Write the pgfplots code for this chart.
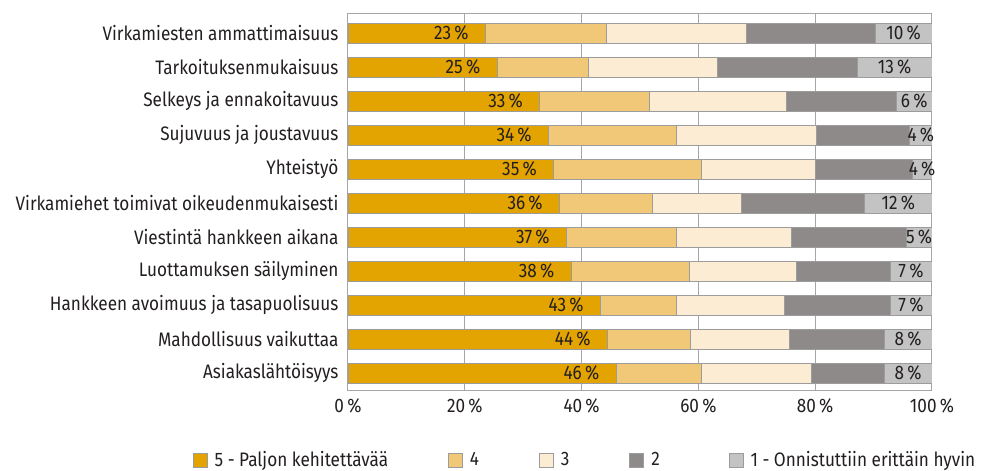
\documentclass[border=0pt]{standalone}
\usepackage{fontspec}
\setmainfont{Fira Sans}[FakeStretch=0.88]
\usepackage{pgfplots}
\usepackage{pgfplotstable}
\pgfplotsset{compat=1.18}
\definecolor{c5}{HTML}{E3A300}
\definecolor{c4}{HTML}{F0C878}
\definecolor{c3}{HTML}{FBECD3}
\definecolor{c2}{HTML}{8E8A89}
\definecolor{c1}{HTML}{C3C3C3}
\definecolor{edge}{HTML}{9C9C9C}
\definecolor{gridc}{HTML}{A6A6A6}
\definecolor{txt}{HTML}{231F20}
\newcommand{\lblfont}{\fontsize{19.5}{22}\selectfont}

\pgfplotstableread{
row v5 v4 v3 v2 v1 l5 l1
0 23.5 20.7 24.0 22.1 9.7 23 10
1 25.5 15.7 22.1 23.9 12.8 25 13
2 32.8 18.8 23.5 18.8 6.1 33 6
3 34.3 22.0 23.9 16.0 3.8 34 4
4 35.2 25.3 19.5 16.6 3.4 35 4
5 36.2 15.9 15.3 21.1 11.5 36 12
6 37.4 18.9 19.6 19.7 4.4 37 5
7 38.2 20.3 18.3 16.0 7.2 38 7
8 43.2 13.0 18.6 18.0 7.2 43 7
9 44.4 14.2 16.9 16.3 8.2 44 8
10 45.9 14.6 18.9 12.4 8.2 46 8
}\data

\begin{document}
\begin{tikzpicture}
\begin{axis}[
    name=A,
    scale only axis,
    width=584pt, height=377pt,
    xbar stacked, bar width=20pt,
    xmin=0, xmax=100, ymin=-0.59, ymax=10.5,
    y dir=reverse,
    ytick={0,...,10},
    yticklabels={Virkamiesten ammattimaisuus, Tarkoituksenmukaisuus, Selkeys ja ennakoitavuus,
        Sujuvuus ja joustavuus, Yhteistyö, Virkamiehet toimivat oikeudenmukaisesti,
        Viestintä hankkeen aikana, Luottamuksen säilyminen, Hankkeen avoimuus ja tasapuolisuus,
        Mahdollisuus vaikuttaa, Asiakaslähtöisyys},
    xtick={0,20,...,100},
    xticklabels={0\,\%,20\,\%,40\,\%,60\,\%,80\,\%,100\,\%},
    xmajorgrids,
    major grid style={gridc, line width=1pt},
    axis line style={gridc, line width=1pt},
    major tick length=0pt,
    tick label style={font=\lblfont, text=txt},
    yticklabel style={xshift=-6pt},
    xticklabel style={yshift=-5pt},
    legend columns=5,
    legend style={at={(-0.266,-0.186)}, anchor=west, draw=none, font=\lblfont, text=txt,
        inner xsep=0pt,
        /tikz/every even column/.append style={column sep=58pt}},
    legend image code/.code={\draw[#1, draw=edge] (0pt,-7pt) rectangle (14pt,7pt); \path (19pt,0pt);},
    every axis plot/.append style={draw=edge, line width=0.8pt},
]
\addplot[fill=c5, point meta=explicit symbolic,
    visualization depends on={x \as \segw},
    nodes near coords={\pgfplotspointmeta\,\%},
    nodes near coords style={anchor=east, xshift={0.5*\segw*5.84pt-13pt}, font=\lblfont, text=txt}]
    table[x=v5, y=row, meta=l5] {\data};
\addplot[fill=c4] table[x=v4, y=row] {\data};
\addplot[fill=c3] table[x=v3, y=row] {\data};
\addplot[fill=c2] table[x=v2, y=row] {\data};
\addplot[fill=c1, point meta=explicit symbolic,
    nodes near coords={\pgfplotspointmeta\,\%},
    nodes near coords style={font=\lblfont, text=txt}]
    table[x=v1, y=row, meta=l1] {\data};
\legend{5 - Paljon kehitettävää, 4, 3, 2\kern9pt\null, 1 - Onnistuttiin erittäin hyvin}
\end{axis}
\pgfresetboundingbox
\path[use as bounding box] ([xshift=-348pt,yshift=-81pt]A.south west) rectangle ([xshift=641pt,yshift=390pt]A.south west);
\end{tikzpicture}
\end{document}
